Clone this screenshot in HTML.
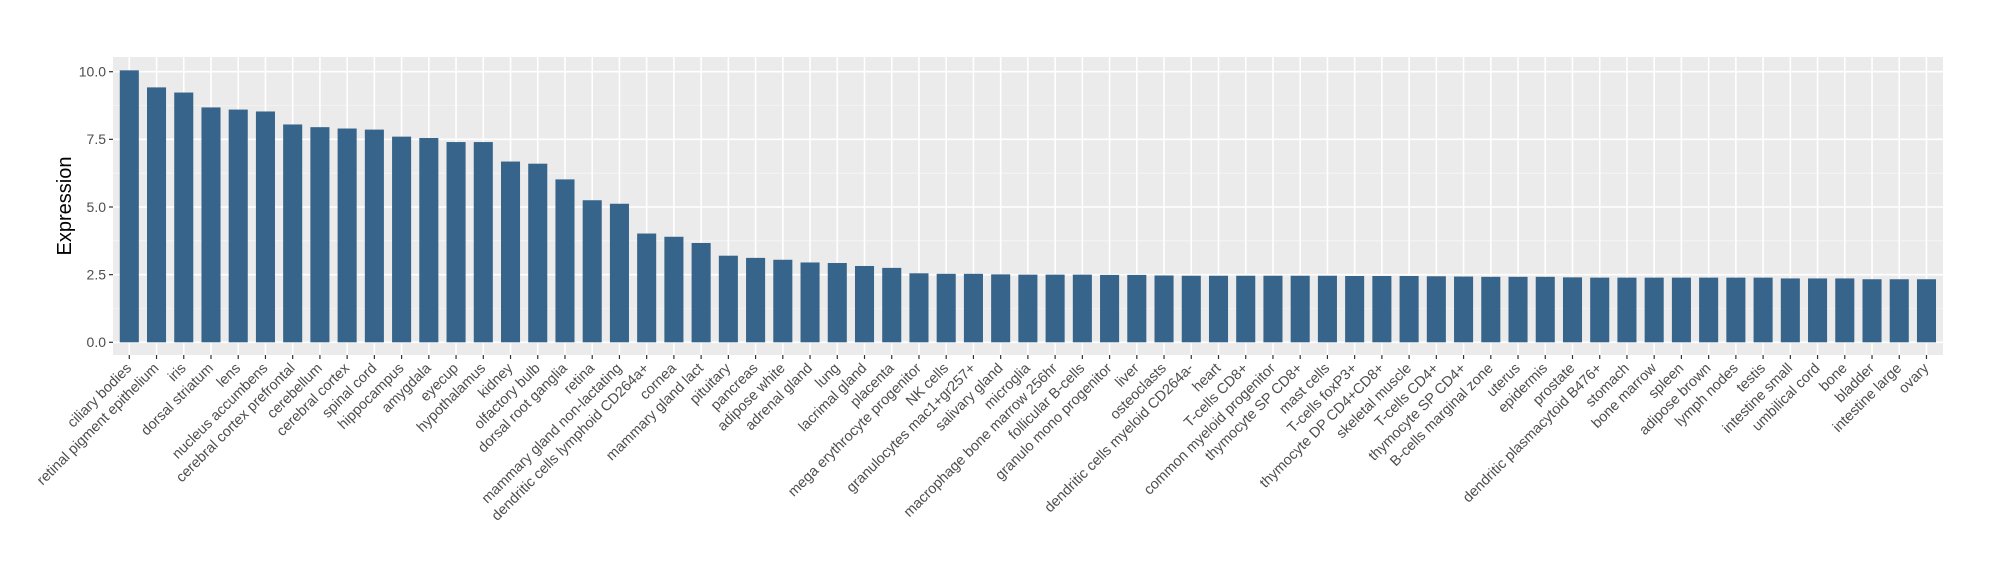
<!DOCTYPE html>
<html><head><meta charset="utf-8"><style>
html,body{margin:0;padding:0;background:#fff;}
svg{display:block;font-family:"Liberation Sans",Arial,sans-serif;}
</style></head><body>
<svg width="2000" height="580" xmlns="http://www.w3.org/2000/svg">
<rect x="0" y="0" width="2000" height="580" fill="#fff"/>
<rect x="113" y="57" width="1830" height="298" fill="#ebebeb"/>
<g stroke="#f5f5f5" stroke-width="0.8">
<line x1="113" x2="1943" y1="308.5" y2="308.5"/><line x1="113" x2="1943" y1="240.8" y2="240.8"/><line x1="113" x2="1943" y1="173.2" y2="173.2"/><line x1="113" x2="1943" y1="105.5" y2="105.5"/>
</g>
<g stroke="#fff" stroke-width="1.6">
<line x1="113" x2="1943" y1="342.3" y2="342.3"/><line x1="113" x2="1943" y1="274.65" y2="274.65"/><line x1="113" x2="1943" y1="207" y2="207"/><line x1="113" x2="1943" y1="139.35" y2="139.35"/><line x1="113" x2="1943" y1="71.7" y2="71.7"/>
</g>
<g stroke="#fff" stroke-width="1.6" transform="translate(129.3,0) scale(27.23,1)">
<path vector-effect="non-scaling-stroke" d="M0 57V355M1 57V355M2 57V355M3 57V355M4 57V355M5 57V355M6 57V355M7 57V355M8 57V355M9 57V355M10 57V355M11 57V355M12 57V355M13 57V355M14 57V355M15 57V355M16 57V355M17 57V355M18 57V355M19 57V355M20 57V355M21 57V355M22 57V355M23 57V355M24 57V355M25 57V355M26 57V355M27 57V355M28 57V355M29 57V355M30 57V355M31 57V355M32 57V355M33 57V355M34 57V355M35 57V355M36 57V355M37 57V355M38 57V355M39 57V355M40 57V355M41 57V355M42 57V355M43 57V355M44 57V355M45 57V355M46 57V355M47 57V355M48 57V355M49 57V355M50 57V355M51 57V355M52 57V355M53 57V355M54 57V355M55 57V355M56 57V355M57 57V355M58 57V355M59 57V355M60 57V355M61 57V355M62 57V355M63 57V355M64 57V355M65 57V355M66 57V355"/>
</g>
<g stroke="#333" stroke-width="1.2" transform="translate(129.3,0) scale(27.23,1)">
<path vector-effect="non-scaling-stroke" d="M0 355V359M1 355V359M2 355V359M3 355V359M4 355V359M5 355V359M6 355V359M7 355V359M8 355V359M9 355V359M10 355V359M11 355V359M12 355V359M13 355V359M14 355V359M15 355V359M16 355V359M17 355V359M18 355V359M19 355V359M20 355V359M21 355V359M22 355V359M23 355V359M24 355V359M25 355V359M26 355V359M27 355V359M28 355V359M29 355V359M30 355V359M31 355V359M32 355V359M33 355V359M34 355V359M35 355V359M36 355V359M37 355V359M38 355V359M39 355V359M40 355V359M41 355V359M42 355V359M43 355V359M44 355V359M45 355V359M46 355V359M47 355V359M48 355V359M49 355V359M50 355V359M51 355V359M52 355V359M53 355V359M54 355V359M55 355V359M56 355V359M57 355V359M58 355V359M59 355V359M60 355V359M61 355V359M62 355V359M63 355V359M64 355V359M65 355V359M66 355V359"/>
</g>
<g stroke="#333" stroke-width="1.2">
<line x1="109" x2="113" y1="342.3" y2="342.3"/><line x1="109" x2="113" y1="274.65" y2="274.65"/><line x1="109" x2="113" y1="207" y2="207"/><line x1="109" x2="113" y1="139.35" y2="139.35"/><line x1="109" x2="113" y1="71.7" y2="71.7"/>
</g>
<g fill="#36648b" transform="translate(119.77,342.3) scale(27.23,-27.06)">
<rect x="0" width="0.7" y="0" height="10.05"/><rect x="1" width="0.7" y="0" height="9.42"/><rect x="2" width="0.7" y="0" height="9.23"/><rect x="3" width="0.7" y="0" height="8.68"/><rect x="4" width="0.7" y="0" height="8.6"/><rect x="5" width="0.7" y="0" height="8.53"/><rect x="6" width="0.7" y="0" height="8.05"/><rect x="7" width="0.7" y="0" height="7.95"/><rect x="8" width="0.7" y="0" height="7.9"/><rect x="9" width="0.7" y="0" height="7.86"/>
<rect x="10" width="0.7" y="0" height="7.6"/><rect x="11" width="0.7" y="0" height="7.55"/><rect x="12" width="0.7" y="0" height="7.4"/><rect x="13" width="0.7" y="0" height="7.4"/><rect x="14" width="0.7" y="0" height="6.68"/><rect x="15" width="0.7" y="0" height="6.6"/><rect x="16" width="0.7" y="0" height="6.02"/><rect x="17" width="0.7" y="0" height="5.25"/><rect x="18" width="0.7" y="0" height="5.12"/><rect x="19" width="0.7" y="0" height="4.02"/>
<rect x="20" width="0.7" y="0" height="3.9"/><rect x="21" width="0.7" y="0" height="3.67"/><rect x="22" width="0.7" y="0" height="3.2"/><rect x="23" width="0.7" y="0" height="3.12"/><rect x="24" width="0.7" y="0" height="3.05"/><rect x="25" width="0.7" y="0" height="2.95"/><rect x="26" width="0.7" y="0" height="2.93"/><rect x="27" width="0.7" y="0" height="2.82"/><rect x="28" width="0.7" y="0" height="2.75"/><rect x="29" width="0.7" y="0" height="2.55"/>
<rect x="30" width="0.7" y="0" height="2.53"/><rect x="31" width="0.7" y="0" height="2.53"/><rect x="32" width="0.7" y="0" height="2.51"/><rect x="33" width="0.7" y="0" height="2.5"/><rect x="34" width="0.7" y="0" height="2.5"/><rect x="35" width="0.7" y="0" height="2.5"/><rect x="36" width="0.7" y="0" height="2.49"/><rect x="37" width="0.7" y="0" height="2.49"/><rect x="38" width="0.7" y="0" height="2.47"/><rect x="39" width="0.7" y="0" height="2.46"/>
<rect x="40" width="0.7" y="0" height="2.46"/><rect x="41" width="0.7" y="0" height="2.46"/><rect x="42" width="0.7" y="0" height="2.46"/><rect x="43" width="0.7" y="0" height="2.46"/><rect x="44" width="0.7" y="0" height="2.46"/><rect x="45" width="0.7" y="0" height="2.45"/><rect x="46" width="0.7" y="0" height="2.45"/><rect x="47" width="0.7" y="0" height="2.45"/><rect x="48" width="0.7" y="0" height="2.44"/><rect x="49" width="0.7" y="0" height="2.43"/>
<rect x="50" width="0.7" y="0" height="2.42"/><rect x="51" width="0.7" y="0" height="2.42"/><rect x="52" width="0.7" y="0" height="2.42"/><rect x="53" width="0.7" y="0" height="2.4"/><rect x="54" width="0.7" y="0" height="2.39"/><rect x="55" width="0.7" y="0" height="2.39"/><rect x="56" width="0.7" y="0" height="2.39"/><rect x="57" width="0.7" y="0" height="2.39"/><rect x="58" width="0.7" y="0" height="2.39"/><rect x="59" width="0.7" y="0" height="2.39"/>
<rect x="60" width="0.7" y="0" height="2.39"/><rect x="61" width="0.7" y="0" height="2.36"/><rect x="62" width="0.7" y="0" height="2.36"/><rect x="63" width="0.7" y="0" height="2.36"/><rect x="64" width="0.7" y="0" height="2.33"/><rect x="65" width="0.7" y="0" height="2.33"/><rect x="66" width="0.7" y="0" height="2.33"/>
</g>
<g font-size="14" fill="#4d4d4d" text-anchor="end">
<text x="106" y="347">0.0</text><text x="106" y="279.5">2.5</text><text x="106" y="212">5.0</text><text x="106" y="144">7.5</text><text x="106" y="76.5">10.0</text>
</g>
<text transform="translate(71,206) rotate(-90)" text-anchor="middle" font-size="20" fill="#000">Expression</text>
<g font-size="14.5" fill="#4d4d4d" text-anchor="end">
<text transform="translate(132.3,369) rotate(-45)">ciliary bodies</text>
<text transform="translate(159.5,369) rotate(-45)">retinal pigment epithelium</text>
<text transform="translate(186.8,369) rotate(-45)">iris</text>
<text transform="translate(214,369) rotate(-45)">dorsal striatum</text>
<text transform="translate(241.2,369) rotate(-45)">lens</text>
<text transform="translate(268.5,369) rotate(-45)">nucleus accumbens</text>
<text transform="translate(295.7,369) rotate(-45)">cerebral cortex prefrontal</text>
<text transform="translate(322.9,369) rotate(-45)">cerebellum</text>
<text transform="translate(350.1,369) rotate(-45)">cerebral cortex</text>
<text transform="translate(377.4,369) rotate(-45)">spinal cord</text>
<text transform="translate(404.6,369) rotate(-45)">hippocampus</text>
<text transform="translate(431.8,369) rotate(-45)">amygdala</text>
<text transform="translate(459.1,369) rotate(-45)">eyecup</text>
<text transform="translate(486.3,369) rotate(-45)">hypothalamus</text>
<text transform="translate(513.5,369) rotate(-45)">kidney</text>
<text transform="translate(540.8,369) rotate(-45)">olfactory bulb</text>
<text transform="translate(568,369) rotate(-45)">dorsal root ganglia</text>
<text transform="translate(595.2,369) rotate(-45)">retina</text>
<text transform="translate(622.4,369) rotate(-45)">mammary gland non-lactating</text>
<text transform="translate(649.7,369) rotate(-45)">dendritic cells lymphoid CD264a+</text>
<text transform="translate(676.9,369) rotate(-45)">cornea</text>
<text transform="translate(704.1,369) rotate(-45)">mammary gland  lact</text>
<text transform="translate(731.4,369) rotate(-45)">pituitary</text>
<text transform="translate(758.6,369) rotate(-45)">pancreas</text>
<text transform="translate(785.8,369) rotate(-45)">adipose white</text>
<text transform="translate(813.1,369) rotate(-45)">adrenal gland</text>
<text transform="translate(840.3,369) rotate(-45)">lung</text>
<text transform="translate(867.5,369) rotate(-45)">lacrimal gland</text>
<text transform="translate(894.7,369) rotate(-45)">placenta</text>
<text transform="translate(922,369) rotate(-45)">mega erythrocyte progenitor</text>
<text transform="translate(949.2,369) rotate(-45)">NK cells</text>
<text transform="translate(976.4,369) rotate(-45)">granulocytes mac1+gr257+</text>
<text transform="translate(1003.7,369) rotate(-45)">salivary gland</text>
<text transform="translate(1030.9,369) rotate(-45)">microglia</text>
<text transform="translate(1058.1,369) rotate(-45)">macrophage bone marrow 256hr</text>
<text transform="translate(1085.4,369) rotate(-45)">follicular B-cells</text>
<text transform="translate(1112.6,369) rotate(-45)">granulo mono progenitor</text>
<text transform="translate(1139.8,369) rotate(-45)">liver</text>
<text transform="translate(1167,369) rotate(-45)">osteoclasts</text>
<text transform="translate(1194.3,369) rotate(-45)">dendritic cells myeloid CD264a-</text>
<text transform="translate(1221.5,369) rotate(-45)">heart</text>
<text transform="translate(1248.7,369) rotate(-45)">T-cells CD8+</text>
<text transform="translate(1276,369) rotate(-45)">common myeloid progenitor</text>
<text transform="translate(1303.2,369) rotate(-45)">thymocyte SP CD8+</text>
<text transform="translate(1330.4,369) rotate(-45)">mast cells</text>
<text transform="translate(1357.7,369) rotate(-45)">T-cells foxP3+</text>
<text transform="translate(1384.9,369) rotate(-45)">thymocyte DP CD4+CD8+</text>
<text transform="translate(1412.1,369) rotate(-45)">skeletal muscle</text>
<text transform="translate(1439.3,369) rotate(-45)">T-cells CD4+</text>
<text transform="translate(1466.6,369) rotate(-45)">thymocyte SP CD4+</text>
<text transform="translate(1493.8,369) rotate(-45)">B-cells marginal zone</text>
<text transform="translate(1521,369) rotate(-45)">uterus</text>
<text transform="translate(1548.3,369) rotate(-45)">epidermis</text>
<text transform="translate(1575.5,369) rotate(-45)">prostate</text>
<text transform="translate(1602.7,369) rotate(-45)">dendritic plasmacytoid B476+</text>
<text transform="translate(1630,369) rotate(-45)">stomach</text>
<text transform="translate(1657.2,369) rotate(-45)">bone marrow</text>
<text transform="translate(1684.4,369) rotate(-45)">spleen</text>
<text transform="translate(1711.6,369) rotate(-45)">adipose brown</text>
<text transform="translate(1738.9,369) rotate(-45)">lymph nodes</text>
<text transform="translate(1766.1,369) rotate(-45)">testis</text>
<text transform="translate(1793.3,369) rotate(-45)">intestine small</text>
<text transform="translate(1820.6,369) rotate(-45)">umbilical cord</text>
<text transform="translate(1847.8,369) rotate(-45)">bone</text>
<text transform="translate(1875,369) rotate(-45)">bladder</text>
<text transform="translate(1902.3,369) rotate(-45)">intestine large</text>
<text transform="translate(1929.5,369) rotate(-45)">ovary</text>
</g>
</svg>
</body></html>
